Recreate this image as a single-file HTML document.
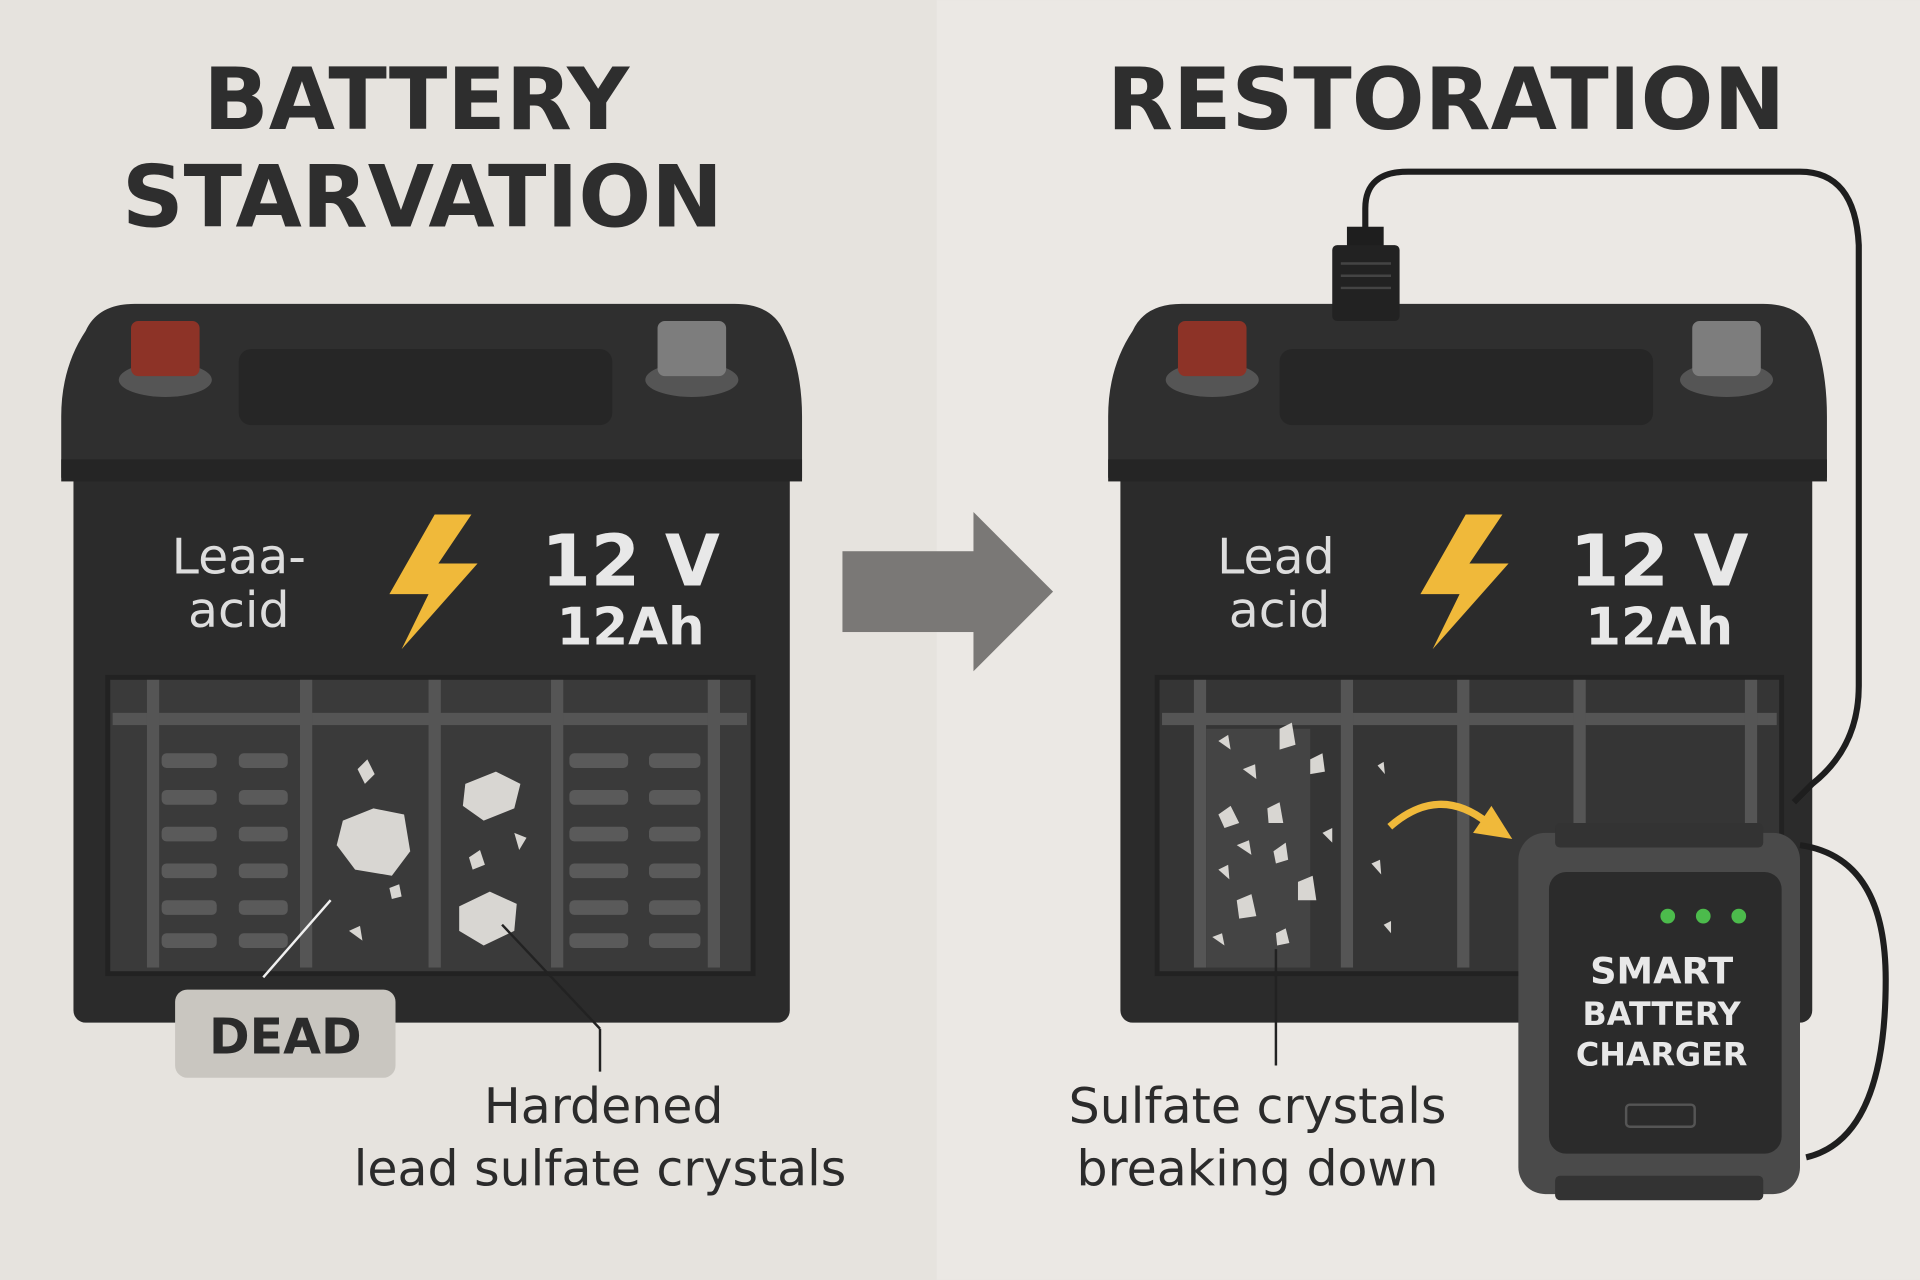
<!DOCTYPE html>
<html><head><meta charset="utf-8"><style>html,body{margin:0;padding:0;background:#e6e3de}svg{display:block}text{font-family:"DejaVu Sans","Liberation Sans",sans-serif}</style></head>
<body>
<svg width="1920" height="1280" viewBox="0 0 1568 1045" xmlns="http://www.w3.org/2000/svg">
<rect width="1568" height="1045" fill="#e6e3de"/>
<rect x="765" width="803" height="1045" fill="#ebe8e4"/>
<!-- titles -->
<g font-weight="bold" fill="#2e2e2e" font-size="70" text-anchor="middle">
<text x="340" y="105">BATTERY</text>
<text x="345" y="185">STARVATION</text>
<text x="1181" y="105">RESTORATION</text>
</g>
<!-- arrow -->
<rect x="688" y="450" width="108" height="66" fill="#7a7876"/>
<polygon points="795,418 860,483 795,548" fill="#7a7876"/>
<!-- LEFT BATTERY -->
<g>
<rect x="60" y="380" width="585" height="455" rx="10" fill="#2b2b2b"/>
<path d="M50,390 L50,340 Q50,300 70,270 Q80,248 110,248 L600,248 Q630,248 640,270 Q655,300 655,340 L655,390 Z" fill="#2f2f2f"/>
<rect x="50" y="375" width="605" height="18" fill="#252525"/>
<rect x="195" y="285" width="305" height="62" rx="10" fill="#262626"/>
<ellipse cx="135" cy="310" rx="38" ry="14" fill="#555"/>
<rect x="107" y="262" width="56" height="45" rx="6" fill="#8d3327"/>
<ellipse cx="565" cy="310" rx="38" ry="14" fill="#555"/>
<rect x="537" y="262" width="56" height="45" rx="6" fill="#7d7d7d"/>
<text x="195" y="468" font-size="40" fill="#ddd" text-anchor="middle">Leaa-</text>
<text x="195" y="512" font-size="40" fill="#ddd" text-anchor="middle">acid</text>
<polygon points="355,420 318,485 350,485 328,530 390,460 358,460 385,420" fill="#f0b93a"/>
<text x="515" y="478" font-size="58" font-weight="bold" fill="#e8e8e8" text-anchor="middle">12 V</text>
<text x="515" y="526" font-size="42" font-weight="bold" fill="#e8e8e8" text-anchor="middle">12Ah</text>
<rect x="88" y="553" width="527" height="242" fill="#3a3a3a" stroke="#222" stroke-width="4"/>
<rect x="92" y="582" width="518" height="10" fill="#555"/>
<g fill="#555"><rect x="120" y="555" width="10" height="235"/><rect x="245" y="555" width="10" height="235"/><rect x="350" y="555" width="10" height="235"/><rect x="450" y="555" width="10" height="235"/><rect x="578" y="555" width="10" height="235"/></g>
<g fill="#5a5a5a">
<rect x="132" y="615" width="45" height="12" rx="4"/><rect x="132" y="645" width="45" height="12" rx="4"/><rect x="132" y="675" width="45" height="12" rx="4"/><rect x="132" y="705" width="45" height="12" rx="4"/><rect x="132" y="735" width="45" height="12" rx="4"/><rect x="132" y="762" width="45" height="12" rx="4"/>
<rect x="195" y="615" width="40" height="12" rx="4"/><rect x="195" y="645" width="40" height="12" rx="4"/><rect x="195" y="675" width="40" height="12" rx="4"/><rect x="195" y="705" width="40" height="12" rx="4"/><rect x="195" y="735" width="40" height="12" rx="4"/><rect x="195" y="762" width="40" height="12" rx="4"/>
<rect x="465" y="615" width="48" height="12" rx="4"/><rect x="465" y="645" width="48" height="12" rx="4"/><rect x="465" y="675" width="48" height="12" rx="4"/><rect x="465" y="705" width="48" height="12" rx="4"/><rect x="465" y="735" width="48" height="12" rx="4"/><rect x="465" y="762" width="48" height="12" rx="4"/>
<rect x="530" y="615" width="42" height="12" rx="4"/><rect x="530" y="645" width="42" height="12" rx="4"/><rect x="530" y="675" width="42" height="12" rx="4"/><rect x="530" y="705" width="42" height="12" rx="4"/><rect x="530" y="735" width="42" height="12" rx="4"/><rect x="530" y="762" width="42" height="12" rx="4"/>
</g>
<g fill="#d8d6d2">
<polygon points="280,670 305,660 330,665 335,695 320,715 290,710 275,690"/>
<polygon points="380,640 405,630 425,640 420,660 395,670 378,658"/>
<polygon points="375,740 400,728 422,738 420,760 395,772 375,760"/>
<polygon points="292,628 300,620 306,632 298,640"/><polygon points="383,700 392,694 396,706 386,710"/>
<polygon points="318,725 326,722 328,732 320,734"/><polygon points="285,760 294,756 296,768"/><polygon points="420,680 430,684 424,694"/>
</g>
<line x1="270" y1="735" x2="215" y2="798" stroke="#f0f0f0" stroke-width="2"/>
<line x1="410" y1="755" x2="490" y2="840" stroke="#222" stroke-width="2"/>
<line x1="490" y1="840" x2="490" y2="875" stroke="#222" stroke-width="2"/>
<rect x="143" y="808" width="180" height="72" rx="10" fill="#c9c6c0"/>
<text x="233" y="860" font-size="40" font-weight="bold" fill="#2b2b2b" text-anchor="middle">DEAD</text>
<text x="493" y="917" font-size="40" fill="#2b2b2b" text-anchor="middle">Hardened</text>
<text x="490" y="968" font-size="40" fill="#2b2b2b" text-anchor="middle">lead sulfate crystals</text>
</g>
<!-- RIGHT BATTERY -->
<g>
<rect x="915" y="380" width="565" height="455" rx="10" fill="#2b2b2b"/>
<path d="M905,390 L905,340 Q905,300 925,270 Q935,248 965,248 L1440,248 Q1470,248 1480,270 Q1492,300 1492,340 L1492,390 Z" fill="#2f2f2f"/>
<rect x="905" y="375" width="587" height="18" fill="#252525"/>
<rect x="1045" y="285" width="305" height="62" rx="10" fill="#262626"/>
<ellipse cx="990" cy="310" rx="38" ry="14" fill="#555"/>
<rect x="962" y="262" width="56" height="45" rx="6" fill="#8d3327"/>
<ellipse cx="1410" cy="310" rx="38" ry="14" fill="#555"/>
<rect x="1382" y="262" width="56" height="45" rx="6" fill="#7d7d7d"/>
<text x="1042" y="468" font-size="40" fill="#ddd" text-anchor="middle">Lead</text>
<text x="1045" y="512" font-size="40" fill="#ddd" text-anchor="middle">acid</text>
<polygon points="1197,420 1160,485 1192,485 1170,530 1232,460 1200,460 1227,420" fill="#f0b93a"/>
<text x="1355" y="478" font-size="58" font-weight="bold" fill="#e8e8e8" text-anchor="middle">12 V</text>
<text x="1355" y="526" font-size="42" font-weight="bold" fill="#e8e8e8" text-anchor="middle">12Ah</text>
<rect x="945" y="553" width="510" height="242" fill="#353535" stroke="#222" stroke-width="4"/>
<rect x="949" y="582" width="502" height="10" fill="#555"/>
<g fill="#555"><rect x="975" y="555" width="10" height="235"/><rect x="1095" y="555" width="10" height="235"/><rect x="1190" y="555" width="10" height="235"/><rect x="1285" y="555" width="10" height="235"/><rect x="1425" y="555" width="10" height="235"/></g>
<rect x="985" y="595" width="85" height="195" fill="#444"/>
<g fill="#d8d6d2">
<polygon points="1045,595 1055,590 1058,608 1045,612"/><polygon points="995,605 1003,600 1005,612"/><polygon points="1015,628 1025,624 1026,636"/>
<polygon points="995,665 1005,658 1012,672 1000,676"/><polygon points="1035,660 1045,655 1048,672 1036,672"/><polygon points="1070,620 1080,615 1082,630 1070,632"/>
<polygon points="1010,690 1020,686 1022,698"/><polygon points="1040,695 1050,688 1052,702 1042,705"/><polygon points="995,710 1003,706 1004,718"/>
<polygon points="1060,720 1072,715 1075,735 1060,735"/><polygon points="1010,735 1022,730 1026,748 1012,750"/><polygon points="990,765 998,762 1000,772"/>
<polygon points="1042,762 1050,758 1053,770 1043,772"/><polygon points="1125,625 1130,622 1131,632"/><polygon points="1120,705 1127,702 1128,714"/><polygon points="1130,755 1136,752 1136,762"/>
<polygon points="1080,680 1088,676 1088,688"/>
</g>
<path d="M1135,675 Q1175,640 1215,672" stroke="#f0b93a" stroke-width="6" fill="none"/>
<polygon points="1203,680 1235,685 1218,658" fill="#f0b93a"/>
<line x1="1042" y1="775" x2="1042" y2="870" stroke="#222" stroke-width="2"/>
<text x="1027" y="917" font-size="40" fill="#2b2b2b" text-anchor="middle">Sulfate crystals</text>
<text x="1027" y="968" font-size="40" fill="#2b2b2b" text-anchor="middle">breaking down</text>
</g>
<!-- cable -->
<path d="M1115,195 L1115,170 Q1115,140 1150,140 L1470,140 Q1515,140 1518,200 L1518,560 Q1518,610 1480,640 L1465,655" stroke="#1e1e1e" stroke-width="5" fill="none"/>
<path d="M1470,690 Q1540,700 1540,800 Q1540,930 1475,945" stroke="#1e1e1e" stroke-width="5" fill="none"/>
<rect x="1100" y="185" width="30" height="20" fill="#1e1e1e"/>
<rect x="1088" y="200" width="55" height="62" rx="4" fill="#222"/>
<g stroke="#444" stroke-width="2"><line x1="1095" y1="215" x2="1136" y2="215"/><line x1="1095" y1="225" x2="1136" y2="225"/><line x1="1095" y1="235" x2="1136" y2="235"/></g>
<!-- charger -->
<rect x="1240" y="680" width="230" height="295" rx="22" fill="#4a4a4a"/>
<g fill="#333"><rect x="1270" y="672" width="170" height="20" rx="4"/><rect x="1270" y="960" width="170" height="20" rx="4"/></g>
<rect x="1265" y="712" width="190" height="230" rx="14" fill="#2b2b2b"/>
<g fill="#4cbb4c"><circle cx="1362" cy="748" r="6"/><circle cx="1391" cy="748" r="6"/><circle cx="1420" cy="748" r="6"/></g>
<g fill="#e8e8e8" font-weight="bold" text-anchor="middle">
<text x="1357" y="803" font-size="30">SMART</text>
<text x="1357" y="837" font-size="26">BATTERY</text>
<text x="1357" y="870" font-size="26">CHARGER</text>
</g>
<rect x="1328" y="902" width="56" height="18" rx="3" fill="none" stroke="#555" stroke-width="2"/>
</svg>
</body></html>
